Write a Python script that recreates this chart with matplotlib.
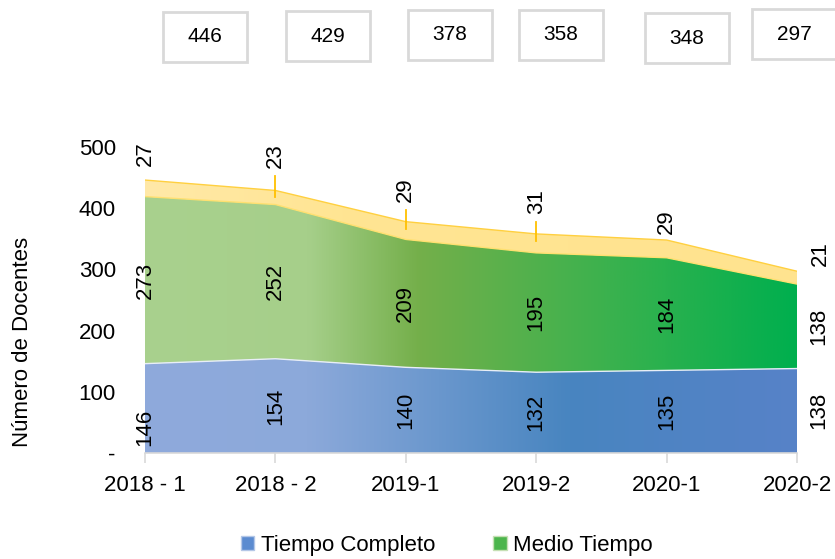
import matplotlib
matplotlib.use("Agg")
import matplotlib.pyplot as plt
import numpy as np
from matplotlib.colors import LinearSegmentedColormap
from matplotlib.patches import Patch, Rectangle

periodos = ['2018 - 1', '2018 - 2', '2019-1', '2019-2', '2020-1', '2020-2']
tiempo_completo = [146, 154, 140, 132, 135, 138]
medio_tiempo = [273, 252, 209, 195, 184, 138]
otros = [27, 23, 29, 31, 29, 21]
totales = [446, 429, 378, 358, 348, 297]

plt.rcParams['font.family'] = ['Liberation Sans Narrow', 'Liberation Sans', 'DejaVu Sans']

FS = 16

fig = plt.figure(figsize=(8.35, 5.59), dpi=100)
ax = fig.add_axes([145/835, 1-453/559, (797-145)/835, (453-147)/559])

x = np.arange(len(periodos))
tc = np.array(tiempo_completo)
mt = np.array(medio_tiempo)
ot = np.array(otros)
base0 = np.zeros(len(x))
base1 = tc
base2 = tc + mt
base3 = tc + mt + ot


def gradient_fill(lo, hi, stops, z, edge=None):
    poly = ax.fill_between(x, lo, hi, facecolor='none', lw=0, zorder=z)
    cmap = LinearSegmentedColormap.from_list('g', stops)
    grad = np.linspace(0, 1, 256).reshape(1, -1)
    im = ax.imshow(grad, cmap=cmap, aspect='auto', origin='lower',
                   extent=[x[0], x[-1], 0, 500], zorder=z, interpolation='bicubic')
    im.set_clip_path(poly.get_paths()[0], ax.transData)
    if edge is not None:
        ax.plot(x, hi, color=edge, lw=1.0, zorder=z + 0.5)


gradient_fill(base0, base1, [(0, '#8FAADC'), (0.25, '#8CA9DA'), (0.65, '#4885C0'), (1, '#5782C8')], 2, edge='#E8EEF7')
gradient_fill(base1, base2, [(0, '#A9D18E'), (0.25, '#A6CF8A'), (0.42, '#74AF4A'), (0.7, '#3DB24E'), (1, '#00AF4E')], 2, edge='#FFE070')
gradient_fill(base2, base3, [(0, '#FFE9A8'), (0.3, '#FFE593'), (1, '#FFE38F')], 2, edge='#FFD040')

ax.set_xlim(0, 5)
ax.set_ylim(0, 500)

# etiquetas de datos
blue_dy = [-14, 0, 0, 0, 0, 0]
for i in range(len(x)):
    dx = 16 if i == len(x) - 1 else 0
    ax.annotate(str(tc[i]), (x[i], tc[i] / 2), xytext=(dx, blue_dy[i]), textcoords='offset points',
                rotation=90, ha='center', va='center', fontsize=FS, zorder=5)
    ax.annotate(str(mt[i]), (x[i], tc[i] + mt[i] / 2), xytext=(dx, 0), textcoords='offset points',
                rotation=90, ha='center', va='center', fontsize=FS, zorder=5)

# etiquetas de la serie superior (posición manual, como en el original)
off_y = [19, 25, 23, 23, 13, 13]
leaders = [False, True, True, True, False, False]
px = 500 / 306  # unidades de datos por pixel
for i in range(len(x)):
    dx = 17 if i == len(x) - 1 else 0
    ax.annotate(str(ot[i]), (x[i], base3[i]), xytext=(dx, off_y[i]), textcoords='offset points',
                rotation=90, ha='center', va='center', fontsize=FS, zorder=5)
    if leaders[i]:
        top = base3[i] + (off_y[i] * 1.39 - 20) * px
        ax.plot([x[i], x[i]], [base3[i] - 7 * px, top], color='#FFC000', lw=1.3, zorder=5)

ax.set_xticks(x)
ax.set_xticklabels(periodos, fontsize=FS)
ax.set_yticks([0, 100, 200, 300, 400, 500])
ax.set_yticklabels(['-', '100', '200', '300', '400', '500'], fontsize=FS)
ax.tick_params(axis='x', length=7, color='#D9D9D9', width=1.2, pad=9)
ax.tick_params(axis='y', length=0, pad=21)
for s in ['top', 'right', 'left']:
    ax.spines[s].set_visible(False)
ax.spines['bottom'].set_color('#D9D9D9')
ax.spines['bottom'].set_linewidth(1.2)
ax.spines['bottom'].set_zorder(6)
ax.set_ylabel('Número de Docentes', fontsize=16)
ax.yaxis.set_label_coords((33 - 145) / 652, (453 - 342) / 306)

# cajas con totales
box_x = [205, 328, 450, 561, 687, 794]
box_y = [37, 36, 35, 35, 38, 34]
for bx, by, t in zip(box_x, box_y, totales):
    fig.add_artist(Rectangle(((bx - 42) / 835, 1 - (by + 25) / 559), 84 / 835, 50 / 559,
                             transform=fig.transFigure, facecolor='white',
                             edgecolor='#D9D9D9', lw=2))
    fig.text(bx / 835, 1 - by / 559, str(t), ha='center', va='center', fontsize=15)

handles = [Patch(facecolor='#5B8BD0', edgecolor='#B4C7E7'),
           Patch(facecolor='#4CB54C', edgecolor='#C5E0B4')]
fig.legend(handles, ['Tiempo Completo', 'Medio Tiempo'], loc='center',
           bbox_to_anchor=(447 / 835, 1 - 545 / 559), ncol=2, frameon=False,
           fontsize=FS, handlelength=0.6, handleheight=0.6, handletextpad=0.3,
           columnspacing=2.6)

fig.savefig('out.png', dpi=100)
